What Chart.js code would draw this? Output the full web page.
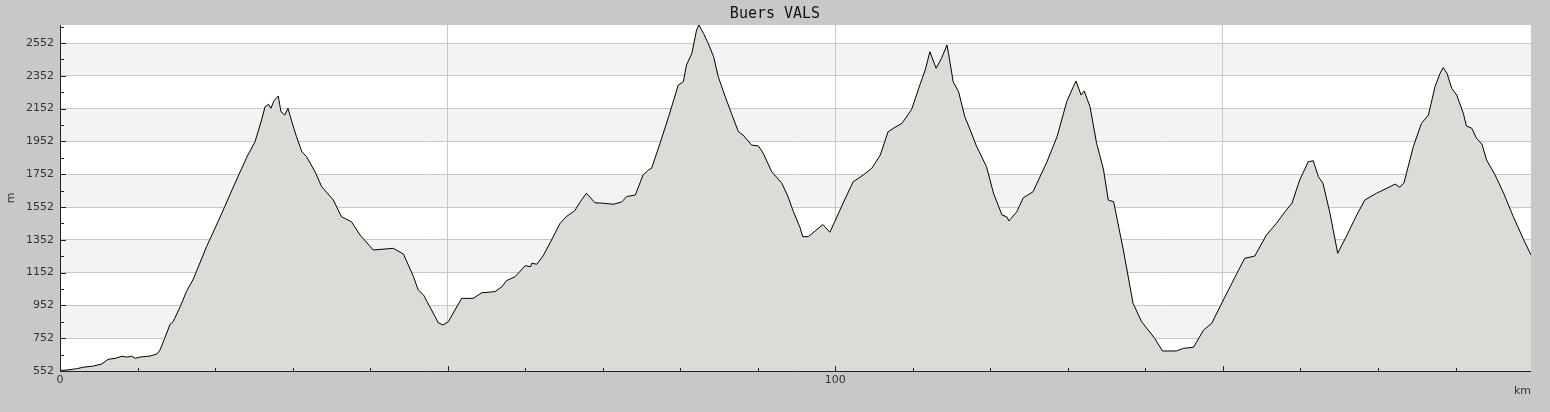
<!DOCTYPE html>
<html lang="en">
<head>
  <meta charset="UTF-8">
  <title>Buers VALS</title>
  <script src="https://cdn.jsdelivr.net/npm/chart.js"></script>
  <style>
    html, body { margin: 0; padding: 0; background: #c8c8c8; }
    #chart-container { width: 1550px; height: 412px; position: relative; }
  </style>
</head>
<body>
  <div id="chart-container">
    <canvas id="profileChart" width="1550" height="412"></canvas>
  </div>

  <script>
    // data
    const chartTitle = 'Buers VALS';
    const xAxisTitle = 'km';
    const yAxisTitle = 'm';

    const distanceKm = [
      0.0, 0.9, 2.15, 3.0, 4.3, 5.4, 6.2, 7.1, 8.0, 8.6, 9.25, 9.7, 10.3, 11.6, 12.5, 12.9,
      13.5, 14.2, 14.6, 15.5, 16.3, 17.2, 18.9, 20.6, 22.35, 24.1, 25.15, 26.0, 26.45, 26.9,
      27.2, 27.6, 28.15, 28.5, 29.0, 29.4, 29.9, 30.5, 31.2, 31.8, 32.9, 33.75, 35.25, 36.3,
      37.6, 38.7, 40.4, 43.0, 44.3, 45.6, 46.2, 46.9, 47.7, 48.8, 49.4, 50.1, 51.8, 53.3,
      54.4, 56.1, 57.0, 57.6, 58.7, 60.0, 60.7, 60.85, 61.5, 62.3, 63.4, 64.5, 65.4, 66.4,
      67.1, 67.9, 69.0, 70.1, 71.4, 72.45, 73.1, 74.2, 75.2, 75.9, 76.3, 77.4, 78.5, 79.75,
      80.4, 80.8, 81.5, 82.1, 82.4, 83.0, 83.6, 84.3, 84.9, 85.8, 86.6, 87.5, 88.1, 89.2,
      90.1, 90.7, 91.8, 93.1, 93.9, 94.6, 95.45, 95.8, 96.5, 97.4, 98.4, 99.3, 101.0, 102.3,
      103.6, 104.7, 105.8, 106.8, 107.7, 108.6, 109.85, 110.9, 111.6, 112.2, 113.0, 113.7,
      114.4, 114.6, 115.2, 115.9, 116.7, 117.4, 118.2, 119.5, 120.4, 121.5, 122.1, 122.4,
      123.4, 124.25, 125.5, 127.3, 128.6, 129.85, 130.7, 131.05, 131.7, 132.1, 132.85, 133.7,
      134.6, 135.2, 135.9, 137.15, 138.4, 139.5, 141.2, 142.2, 144.0, 144.9, 146.2, 147.5,
      148.55, 150.05, 151.8, 152.8, 154.1, 155.6, 156.9, 158.0, 158.9, 159.9, 161.0, 161.65,
      162.3, 162.9, 163.8, 164.8, 166.0, 167.25, 168.3, 169.8, 171.55, 172.2, 172.8, 173.35,
      174.55, 175.6, 176.5, 177.35, 178.0, 178.4, 178.9, 179.5, 180.15, 181.0, 181.4, 182.1,
      182.7, 183.4, 184.0, 185.1, 186.2, 187.45, 188.7, 189.73
    ];

    const elevationM = [
      556, 558, 566, 575, 582, 595, 623, 629, 642, 637, 642, 629, 637, 643, 656, 680,
      751, 837, 853, 944, 1036, 1113, 1310, 1485, 1674, 1857, 1950, 2083, 2164, 2178,
      2154, 2200, 2229, 2133, 2113, 2154, 2072, 1981, 1889, 1859, 1767, 1676, 1595, 1493,
      1462, 1381, 1290, 1300, 1265, 1127, 1046, 1015, 944, 845, 833, 853, 995, 995,
      1029, 1036, 1066, 1103, 1127, 1194, 1188, 1209, 1203, 1253, 1351, 1453, 1497, 1530,
      1584, 1636, 1578, 1575, 1569, 1583, 1616, 1625, 1747, 1778, 1788, 1941, 2103, 2296,
      2316, 2418, 2489, 2631, 2662, 2611, 2550, 2469, 2347, 2225, 2123, 2011, 1991, 1930,
      1924, 1880, 1767, 1697, 1615, 1523, 1427, 1371, 1371, 1406, 1445, 1398, 1575, 1706,
      1747, 1788, 1869, 2011, 2038, 2062, 2148, 2296, 2388, 2499, 2398, 2459,
      2540, 2489, 2316, 2255, 2103, 2022, 1924, 1798, 1636, 1503, 1493, 1467,
      1523, 1609, 1645, 1828, 1981, 2194, 2286, 2320, 2235, 2259, 2164, 1941,
      1778, 1595, 1584, 1290, 965, 853, 751, 674, 674, 690, 697, 802,
      843, 985, 1148, 1239, 1253, 1381, 1453, 1523, 1575, 1717, 1828, 1834,
      1737, 1697, 1514, 1270, 1381, 1503, 1595, 1636, 1676, 1692, 1672, 1700,
      1920, 2062, 2113, 2286, 2367, 2402, 2367, 2276, 2235, 2123, 2046, 2032,
      1971, 1936, 1839, 1747, 1636, 1493, 1361, 1259
    ];

    const yTickLabels = [552, 752, 952, 1152, 1352, 1552, 1752, 1952, 2152, 2352, 2552];
    const xTickLabels = [0, 100];
    const xGridLines = [50, 100, 150];

    const yMin = 552, yMax = 2662, yStep = 100;
    const xMin = 0, xMax = 189.73, xStep = 10;

    const points = distanceKm.map((d, i) => ({ x: d, y: elevationM[i] }));

    // background, stripes, axes, small ticks and texts
    const profileDecor = {
      id: 'profileDecor',
      beforeDraw(chart) {
        const { ctx, chartArea: a, scales } = chart;
        const y = scales.y;
        ctx.save();
        ctx.fillStyle = '#c8c8c8';
        ctx.fillRect(0, 0, chart.width, chart.height);
        ctx.fillStyle = '#ffffff';
        ctx.fillRect(a.left, a.top, a.right - a.left, a.bottom - a.top);
        ctx.fillStyle = '#f3f2f5';
        for (let i = 1; i < yTickLabels.length - 1; i += 2) {
          const y0 = Math.round(y.getPixelForValue(yTickLabels[i]));
          const y1 = Math.round(y.getPixelForValue(yTickLabels[i + 1]));
          ctx.fillRect(a.left, y1, a.right - a.left, y0 - y1);
        }
        ctx.restore();
      },
      afterDatasetsDraw(chart) {
        const { ctx, chartArea: a, scales } = chart;
        const x = scales.x, y = scales.y;
        ctx.save();
        ctx.strokeStyle = '#222';
        ctx.lineWidth = 1;
        ctx.beginPath();
        ctx.moveTo(a.left + 0.5, a.top);
        ctx.lineTo(a.left + 0.5, a.bottom + 1);
        ctx.moveTo(a.left, a.bottom + 0.5);
        ctx.lineTo(a.right, a.bottom + 0.5);
        for (let v = yMin; v <= yMax; v += yStep) {
          const py = Math.round(y.getPixelForValue(v)) + 0.5;
          const len = yTickLabels.includes(v) ? 5 : 3;
          ctx.moveTo(a.left, py);
          ctx.lineTo(a.left + 1 + len, py);
        }
        for (let v = xMin + xStep; v <= xMax; v += xStep) {
          const px = Math.round(x.getPixelForValue(v)) + 0.5;
          const len = v % 50 === 0 ? 5 : 3;
          ctx.moveTo(px, a.bottom + 1);
          ctx.lineTo(px, a.bottom - len);
        }
        ctx.stroke();

        ctx.fillStyle = '#111';
        ctx.font = '15px "DejaVu Sans Mono"';
        ctx.textAlign = 'center';
        ctx.textBaseline = 'middle';
        ctx.fillText(chartTitle, chart.width / 2, 14);

        ctx.fillStyle = '#333';
        ctx.font = '11px "DejaVu Sans"';
        ctx.textAlign = 'right';
        ctx.fillText(xAxisTitle, a.right, 391);

        ctx.translate(11, (a.top + a.bottom) / 2);
        ctx.rotate(-Math.PI / 2);
        ctx.textAlign = 'center';
        ctx.fillText(yAxisTitle, 0, 0);
        ctx.restore();
      }
    };

    const ctx = document.getElementById('profileChart').getContext('2d');
    const profileChart = new Chart(ctx, {
      type: 'line',
      data: {
        datasets: [{
          data: points,
          borderColor: '#000000',
          borderWidth: 1,
          backgroundColor: '#dcdbd6',
          fill: 'start',
          pointRadius: 0,
          tension: 0
        }]
      },
      options: {
        responsive: false,
        animation: false,
        layout: { padding: { top: 25, right: 19, left: 0, bottom: 0 } },
        plugins: {
          legend: { display: false },
          title: { display: false },
          tooltip: { enabled: false }
        },
        scales: {
          x: {
            type: 'linear',
            min: xMin,
            max: xMax,
            afterBuildTicks(scale) {
              const t = [];
              for (let v = xMin; v <= xMax; v += xStep) t.push({ value: v });
              scale.ticks = t;
            },
            afterFit(scale) { scale.height = 41; },
            ticks: {
              autoSkip: false,
              maxRotation: 0,
              padding: 3,
              color: '#333',
              font: { family: 'DejaVu Sans', size: 11 },
              callback: v => xTickLabels.includes(v) ? String(v) : ''
            },
            grid: {
              drawTicks: false,
              color: c => xGridLines.includes(c.tick.value) ? '#c8c8c8' : 'rgba(0,0,0,0)'
            },
            border: { display: false }
          },
          y: {
            type: 'linear',
            min: yMin,
            max: yMax,
            afterBuildTicks(scale) {
              const t = [];
              for (let v = yMin; v <= yMax; v += yStep) t.push({ value: v });
              scale.ticks = t;
            },
            afterFit(scale) { scale.width = 60; },
            ticks: {
              autoSkip: false,
              padding: 6,
              color: '#333',
              font: { family: 'DejaVu Sans', size: 11 },
              callback: v => yTickLabels.includes(v) ? String(v) : ''
            },
            grid: {
              drawTicks: false,
              color: c => yTickLabels.includes(c.tick.value) ? '#c8c8c8' : 'rgba(0,0,0,0)'
            },
            border: { display: false }
          }
        }
      },
      plugins: [profileDecor]
    });
  </script>
</body>
</html>
